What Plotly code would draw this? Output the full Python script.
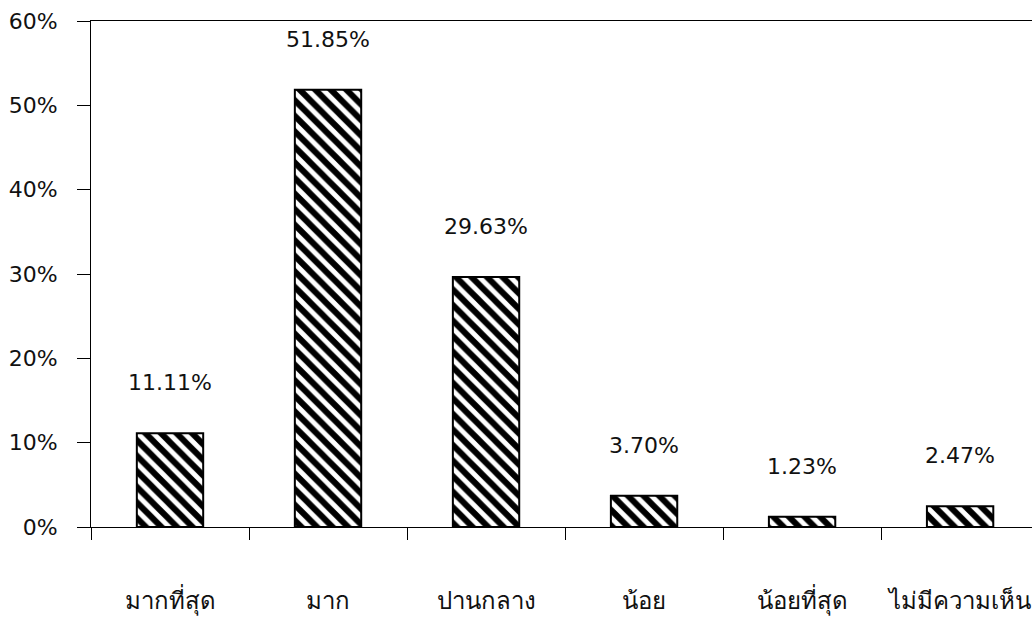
import plotly.graph_objects as go

# Survey response shares by opinion level
categories = ["มากที่สุด", "มาก", "ปานกลาง", "น้อย", "น้อยที่สุด", "ไม่มีความเห็น"]
shares = [0.1111, 0.5185, 0.2963, 0.0370, 0.0123, 0.0247]
value_labels = ["11.11%", "51.85%", "29.63%", "3.70%", "1.23%", "2.47%"]

FONT = "DejaVu Sans, Tahoma, sans-serif"

fig = go.Figure(
    go.Bar(
        x=categories,
        y=shares,
        width=0.42,
        marker=dict(
            color="white",
            line=dict(color="black", width=2),
            pattern=dict(shape="\\", fgcolor="black", bgcolor="white",
                         fgopacity=1, fillmode="replace",
                         size=11, solidity=0.55),
        ),
        hoverinfo="skip",
    )
)

for cat, val, lab in zip(categories, shares, value_labels):
    fig.add_annotation(
        x=cat, y=val, text=lab, showarrow=False,
        yanchor="bottom", yshift=36,
        font=dict(family=FONT, size=22, color="#111"),
    )

fig.update_layout(
    width=1032, height=617,
    margin=dict(l=91, r=0, t=21, b=90),
    paper_bgcolor="white", plot_bgcolor="white",
    showlegend=False,
    font=dict(family=FONT, color="#111"),
)

fig.update_xaxes(
    range=[-0.5, 5.455],
    showline=True, linecolor="black", linewidth=1, mirror=True,
    ticks="outside", tickson="boundaries", ticklen=12, tickcolor="black",
    showgrid=False, zeroline=False,
    tickfont=dict(family=FONT, size=24, color="#111"),
    ticklabelstandoff=52,
)
fig.update_yaxes(
    range=[0, 0.6], dtick=0.1, tickformat=".0%",
    showline=True, linecolor="black", linewidth=1,
    ticks="outside", ticklen=13, tickcolor="black",
    showgrid=False, zeroline=False,
    tickfont=dict(family=FONT, size=22, color="#111"),
    ticklabelstandoff=15,
)

fig.write_html("out.html")
